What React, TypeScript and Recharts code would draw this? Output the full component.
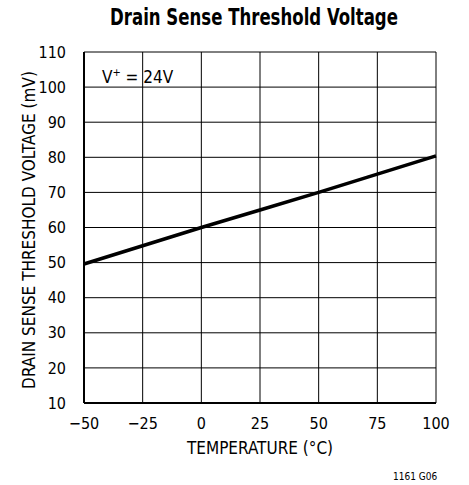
import { CartesianGrid, Line, LineChart, XAxis, YAxis } from "recharts";

const temps = [-50, -25, 0, 25, 50, 75, 100];
const thresholdMv = [49.6, 54.8, 60, 65, 70, 75.2, 80.4];
const xTicks = [-50, -25, 0, 25, 50, 75, 100];
const yTicks = [10, 20, 30, 40, 50, 60, 70, 80, 90, 100, 110];

const data = temps.map((t, i) => ({ t, mv: thresholdMv[i] }));

const font = "'DejaVu Sans Condensed', 'Liberation Sans Narrow', sans-serif";
const minus = (v: number) => String(v).replace("-", "\u2212");

export default function App() {
  return (
    <div style={{ position: "absolute", left: 0, top: 0, width: 469, height: 485, background: "#fff", fontFamily: font, color: "#000" }}>
      <div style={{ position: "absolute", left: 0, width: 508, top: 4, textAlign: "center", fontSize: 23, fontWeight: "bold", transform: "scaleX(0.8)", transformOrigin: "254px 0" }}>
        Drain Sense Threshold Voltage
      </div>
      <LineChart width={469} height={485} data={data} margin={{ top: 52, right: 33, left: 44, bottom: 52 }}>
        <CartesianGrid stroke="#000" strokeWidth={1} />
        <XAxis
          dataKey="t"
          type="number"
          domain={[-50, 100]}
          ticks={xTicks}
          tickFormatter={minus}
          tickLine={false}
          axisLine={{ stroke: "#000", strokeWidth: 2 }}
          tick={{ fill: "#000", fontSize: 16, fontFamily: font }}
          tickMargin={9}
          height={30}
          interval={0}
        />
        <XAxis xAxisId="top" orientation="top" dataKey="t" type="number" domain={[-50, 100]} tick={false} tickLine={false} height={0} axisLine={{ stroke: "#000", strokeWidth: 2 }} />
        <YAxis
          type="number"
          domain={[10, 110]}
          ticks={yTicks}
          tickLine={false}
          axisLine={{ stroke: "#000", strokeWidth: 2 }}
          tick={{ fill: "#000", fontSize: 16, fontFamily: font }}
          tickMargin={12}
          width={40}
          interval={0}
        />
        <YAxis yAxisId="right" orientation="right" domain={[10, 110]} tick={false} tickLine={false} width={0} axisLine={{ stroke: "#000", strokeWidth: 2 }} />
        <Line dataKey="mv" type="linear" stroke="#000" strokeWidth={3.5} dot={false} isAnimationActive={false} />
      </LineChart>
      <div style={{ position: "absolute", left: 102, top: 66, fontSize: 17 }}>
        V<sup style={{ fontSize: 11 }}>+</sup> = 24V
      </div>
      <div style={{ position: "absolute", left: 84, width: 352, top: 438, textAlign: "center", fontSize: 17 }}>
        TEMPERATURE (°C)
      </div>
      <div
        style={{
          position: "absolute",
          left: 29 - 200,
          top: 231 - 11,
          width: 400,
          textAlign: "center",
          fontSize: 17,
          transform: "rotate(-90deg)",
        }}
      >
        DRAIN SENSE THRESHOLD VOLTAGE (mV)
      </div>
      <div style={{ position: "absolute", left: 393, top: 471, fontSize: 10 }}>1161 G06</div>
    </div>
  );
}
